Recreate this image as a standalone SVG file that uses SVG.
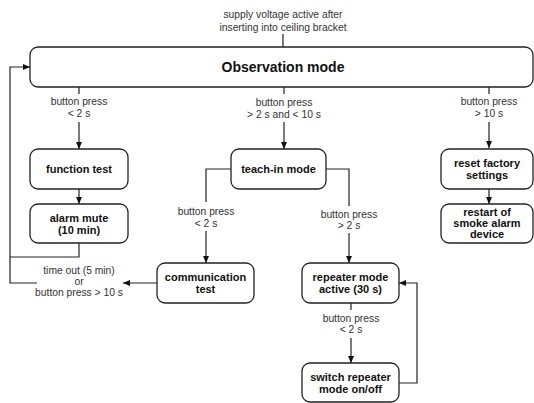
<svg xmlns="http://www.w3.org/2000/svg" width="534" height="403" viewBox="0 0 534 403">
<defs>
<marker id="arr" markerWidth="7" markerHeight="6" refX="7" refY="3" orient="auto" markerUnits="userSpaceOnUse">
<path d="M0,0 L7,3 L0,6 z" fill="#111"/>
</marker>
<style>
.box{fill:#fff;stroke:#222;stroke-width:1.3}
.n{font-family:"Liberation Sans",Arial,sans-serif;font-weight:bold;font-size:11px;fill:#111;text-anchor:middle}
.t{font-family:"Liberation Sans",Arial,sans-serif;font-weight:bold;font-size:14px;fill:#111;text-anchor:middle}
.l{font-family:"Liberation Sans",Arial,sans-serif;font-size:10.3px;fill:#333;text-anchor:middle}
.c{fill:none;stroke:#222;stroke-width:1.2}
.a{fill:none;stroke:#222;stroke-width:1.2;marker-end:url(#arr)}
</style>
</defs>
<rect width="534" height="403" fill="#fff"/>
<g id="connectors">
<line class="c" x1="283" y1="34" x2="283" y2="47"/>
<!-- left branch -->
<line class="c" x1="79" y1="87" x2="79" y2="94"/>
<line class="a" x1="79" y1="122" x2="79" y2="149"/>
<line class="a" x1="79" y1="189" x2="79" y2="204"/>
<!-- middle -->
<line class="c" x1="284" y1="87" x2="284" y2="94"/>
<line class="a" x1="284" y1="122" x2="284" y2="149"/>
<!-- right -->
<line class="c" x1="489" y1="87" x2="489" y2="94"/>
<line class="a" x1="489" y1="122" x2="489" y2="148"/>
<line class="a" x1="489" y1="189" x2="489" y2="204"/>
<!-- teach-in left -->
<polyline class="c" points="231,169 206,169 206,202"/>
<line class="a" x1="206" y1="231" x2="206" y2="263"/>
<!-- teach-in right -->
<polyline class="c" points="326,169 349,169 349,206"/>
<line class="a" x1="349" y1="233" x2="349" y2="263"/>
<!-- repeater down -->
<line class="c" x1="351" y1="303" x2="351" y2="310"/>
<line class="a" x1="351" y1="338" x2="351" y2="363"/>
<!-- loop back to repeater -->
<polyline class="a" points="399,383 417,383 417,283 399,283"/>
<!-- back to observation -->
<polyline class="c" points="79,243 79,257 10,257"/>
<polyline class="a" points="37,283 10,283 10,67 30,67"/>
<line class="a" x1="157" y1="283" x2="123" y2="283"/>
</g>
<g id="labels">
<text class="l" x="283" y="18" font-size="11">supply voltage active after</text>
<text class="l" x="283" y="30.5" font-size="11">inserting into ceiling bracket</text>
<text class="l" x="79" y="105">button press</text>
<text class="l" x="79" y="117">&lt; 2 s</text>
<text class="l" x="284" y="106">button press</text>
<text class="l" x="284" y="118">&gt; 2 s and &lt; 10 s</text>
<text class="l" x="489" y="105">button press</text>
<text class="l" x="489" y="117">&gt; 10 s</text>
<text class="l" x="206" y="215">button press</text>
<text class="l" x="206" y="227">&lt; 2 s</text>
<text class="l" x="349" y="218">button press</text>
<text class="l" x="349" y="229">&gt; 2 s</text>
<text class="l" x="351" y="322">button press</text>
<text class="l" x="351" y="333">&lt; 2 s</text>
<text class="l" x="79" y="274">time out (5 min)</text>
<text class="l" x="79" y="285">or</text>
<text class="l" x="79" y="296">button press &gt; 10 s</text>
</g>
<g id="observation">
<rect class="box" x="30" y="47" width="503" height="40" rx="8"/>
<text class="t" x="283" y="72">Observation mode</text>
</g>
<g id="function-test">
<rect class="box" x="30" y="149" width="98" height="40" rx="8"/>
<text class="n" x="79" y="173">function test</text>
</g>
<g id="alarm-mute">
<rect class="box" x="30" y="204" width="98" height="39" rx="8"/>
<text class="n" x="79" y="221.5">alarm mute</text>
<text class="n" x="79" y="233.5">(10 min)</text>
</g>
<g id="teach-in">
<rect class="box" x="231" y="149" width="95" height="40" rx="8"/>
<text class="n" x="278.5" y="173">teach-in mode</text>
</g>
<g id="communication-test">
<rect class="box" x="157" y="263" width="97" height="40" rx="8"/>
<text class="n" x="205.5" y="280.5">communication</text>
<text class="n" x="205.5" y="292.5">test</text>
</g>
<g id="repeater-active">
<rect class="box" x="302" y="263" width="97" height="40" rx="8"/>
<text class="n" x="350.5" y="280.5">repeater mode</text>
<text class="n" x="350.5" y="292.5">active (30 s)</text>
</g>
<g id="switch-repeater">
<rect class="box" x="302" y="363" width="97" height="39" rx="8"/>
<text class="n" x="350.5" y="380.5">switch repeater</text>
<text class="n" x="350.5" y="392.5">mode on/off</text>
</g>
<g id="reset-factory">
<rect class="box" x="441" y="149" width="92" height="40" rx="8"/>
<text class="n" x="487" y="166.5">reset factory</text>
<text class="n" x="487" y="178.5">settings</text>
</g>
<g id="restart">
<rect class="box" x="441" y="204" width="92" height="39" rx="8"/>
<text class="n" x="487" y="216">restart of</text>
<text class="n" x="487" y="227">smoke alarm</text>
<text class="n" x="487" y="238">device</text>
</g>
</svg>
